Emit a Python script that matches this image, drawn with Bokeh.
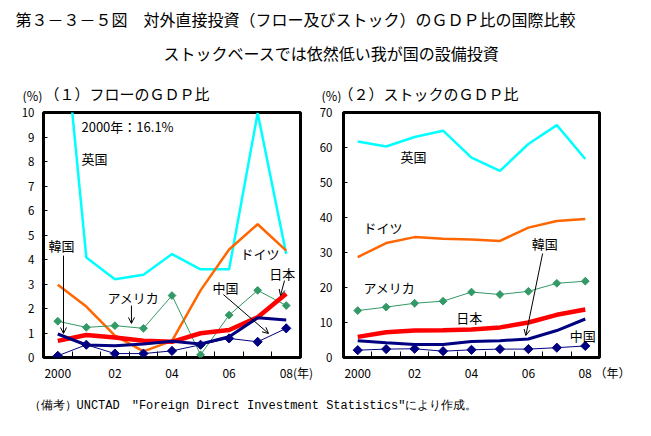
from bokeh.plotting import figure
from bokeh.layouts import column, row
from bokeh.models import Range1d, Label, Arrow, OpenHead, FixedTicker
from bokeh.embed import file_html
from bokeh.resources import INLINE

JP = "Noto Sans CJK JP"

years = [2000, 2001, 2002, 2003, 2004, 2005, 2006, 2007, 2008]
tick_years = [2000, 2002, 2004, 2006, 2008]
# leading wide spaces keep "08" centred under 2008 while "(年)" hangs to its right
tick_labels_flow = ["2000", "02", "04", "06", "\u3000\u2002\u200908(年)"]
tick_labels_stock = ["2000", "02", "04", "06", "\u3000\u3000\u3000\u200908 （年）"]

# (1) flow, % of GDP
flow_uk = [16.1, 4.08, 3.19, 3.38, 4.22, 3.60, 3.60, 9.98, 4.22]
flow_de = [2.97, 2.08, 0.89, 0.25, 0.68, 2.74, 4.41, 5.44, 4.36]
flow_us = [1.48, 1.23, 1.30, 1.19, 2.53, 0.11, 1.73, 2.74, 2.12]
flow_jp = [0.68, 0.92, 0.82, 0.68, 0.64, 0.99, 1.12, 1.64, 2.60]
flow_kr = [0.96, 0.51, 0.48, 0.55, 0.66, 0.55, 0.85, 1.62, 1.53]
flow_cn = [0.07, 0.52, 0.16, 0.16, 0.27, 0.52, 0.78, 0.64, 1.19]

# (2) stock, % of GDP
stock_uk = [61.7, 60.3, 63.0, 64.8, 57.1, 53.3, 61.0, 66.4, 56.7]
stock_de = [28.7, 32.7, 34.4, 33.9, 33.7, 33.3, 37.1, 39.0, 39.6]
stock_us = [13.4, 14.4, 15.5, 16.1, 18.7, 18.0, 18.9, 21.2, 21.8]
stock_jp = [5.9, 7.2, 7.7, 7.8, 8.0, 8.6, 10.0, 12.2, 13.7]
stock_kr = [4.8, 4.2, 3.7, 3.7, 4.6, 4.8, 5.3, 7.7, 11.0]
stock_cn = [2.1, 2.4, 2.5, 1.8, 2.2, 2.4, 2.4, 2.8, 3.3]

C_UK = "#00FFFF"
C_DE = "#FF6600"
C_US = "#339966"
C_JP = "#FF0000"
C_KR = "#000080"
C_CN = "#000080"


def make_panel(width, bl, br, ymax, ystep, standoff, labels):
    p = figure(width=width, height=285, x_range=Range1d(1999.5, 2008.5),
               y_range=Range1d(0, ymax), output_backend="svg",
               toolbar_location=None, min_border_left=bl, min_border_right=br,
               min_border_top=9, min_border_bottom=31,
               background_fill_color="white", border_fill_color="white")
    p.outline_line_color = "black"
    p.outline_line_width = 3
    p.xgrid.visible = False
    p.ygrid.visible = False
    p.xaxis.ticker = FixedTicker(ticks=tick_years,
                                 minor_ticks=[y + 0.5 for y in years[:-1]])
    p.xaxis.major_label_overrides = dict(zip(tick_years, labels))
    p.xaxis.major_tick_line_color = None
    p.xaxis.minor_tick_in = 6
    p.xaxis.minor_tick_out = 0
    p.xaxis.minor_tick_line_color = "black"
    p.xaxis.minor_tick_line_width = 1
    p.xaxis.axis_line_color = None
    p.xaxis.major_label_standoff = 0
    p.yaxis.ticker = FixedTicker(ticks=list(range(0, ymax + 1, ystep)))
    p.yaxis.major_tick_in = 4
    p.yaxis.major_tick_out = 0
    p.yaxis.minor_tick_line_color = None
    p.yaxis.axis_line_color = None
    p.yaxis.major_label_standoff = standoff
    for ax in (p.xaxis, p.yaxis):
        ax.major_label_text_font = JP
        ax.major_label_text_color = "black"
    p.xaxis.major_label_text_font_size = "12px"
    p.yaxis.major_label_text_font_size = "11.5px"
    return p


def add_lines(p, uk, de, us, jp, kr, cn):
    p.line(years, uk, line_color=C_UK, line_width=2.5)
    p.line(years, de, line_color=C_DE, line_width=2.5)
    p.line(years, us, line_color=C_US, line_width=1)
    p.scatter(years, us, marker="square", angle=0.785398, size=5.5,
              fill_color=C_US, line_color=C_US)
    p.line(years, jp, line_color=C_JP, line_width=4.5)
    p.line(years, kr, line_color=C_KR, line_width=3)
    p.line(years, cn, line_color=C_CN, line_width=1)
    p.scatter(years, cn, marker="square", angle=0.785398, size=6.5,
              fill_color=C_CN, line_color=C_CN)


def lab(p, x, y, text, size="13px", align="left", font=JP):
    p.add_layout(Label(x=x, y=y, text=text, text_font=font, text_font_size=size,
                       text_baseline="middle", text_align=align,
                       text_color="black"))


def arrow(p, x0, y0, x1, y1):
    p.add_layout(Arrow(end=OpenHead(size=6, line_width=1, line_color="black"),
                       x_start=x0, y_start=y0, x_end=x1, y_end=y1,
                       line_width=1, line_color="black"))


# ---- left panel (flow)
p1 = make_panel(316, 43, 16, 10, 1, 9, tick_labels_flow)
add_lines(p1, flow_uk, flow_de, flow_us, flow_jp, flow_kr, flow_cn)
lab(p1, 2000.83, 9.43, "2000年：16.1%", "13px")
lab(p1, 2000.83, 8.12, "英国")
lab(p1, 1999.675, 4.57, "韓国")
arrow(p1, 2000.2, 4.16, 2000.2, 0.98)
lab(p1, 2001.74, 2.45, "アメリカ")
arrow(p1, 2002.58, 2.12, 2002.58, 1.39)
lab(p1, 2005.42, 2.86, "中国")
arrow(p1, 2005.80, 2.57, 2007.38, 0.98)
lab(p1, 2006.40, 4.24, "ドイツ")
lab(p1, 2007.41, 3.43, "日本")
arrow(p1, 2007.94, 3.14, 2007.80, 2.53)

# ---- right panel (stock)
p2 = make_panel(335, 26, 52, 70, 10, 11, tick_labels_stock)
add_lines(p2, stock_uk, stock_de, stock_us, stock_jp, stock_kr, stock_cn)
lab(p2, 2001.50, 57.43, "英国")
lab(p2, 2000.20, 37.14, "ドイツ")
lab(p2, 2000.20, 20.0, "アメリカ")
lab(p2, 2003.46, 11.43, "日本")
lab(p2, 2006.12, 32.57, "韓国")
arrow(p2, 2006.50, 29.71, 2005.91, 6.29)
lab(p2, 2007.45, 6.29, "中国")


def text_strip(height):
    f = figure(width=651, height=height, x_range=Range1d(0, 651),
               y_range=Range1d(height, 0), output_backend="svg",
               toolbar_location=None, min_border=0,
               background_fill_color="white", border_fill_color="white")
    f.outline_line_color = None
    f.axis.visible = False
    f.grid.visible = False
    return f


head = text_strip(103)
lab(head, 15, 18, "第３－３－５図　対外直接投資（フロー及びストック）のＧＤＰ比の国際比較", "16px")
lab(head, 331, 52, "ストックベースでは依然低い我が国の設備投資", "16px", "center")
lab(head, 22, 94.5, "(%)", "12.5px")
lab(head, 44, 93, "（１）フローのＧＤＰ比", "15px")
lab(head, 321, 94.5, "(%)", "12.5px")
lab(head, 338, 93, "（２）ストックのＧＤＰ比", "15px")

foot = text_strip(48)
lab(foot, 28, 17, "（備考）UNCTAD　\"Foreign Direct Investment Statistics\"により作成。",
    "12px", font="Liberation Mono")

layout = column(head, row(p1, p2), foot)

open("out.html", "w").write(file_html(layout, INLINE))
